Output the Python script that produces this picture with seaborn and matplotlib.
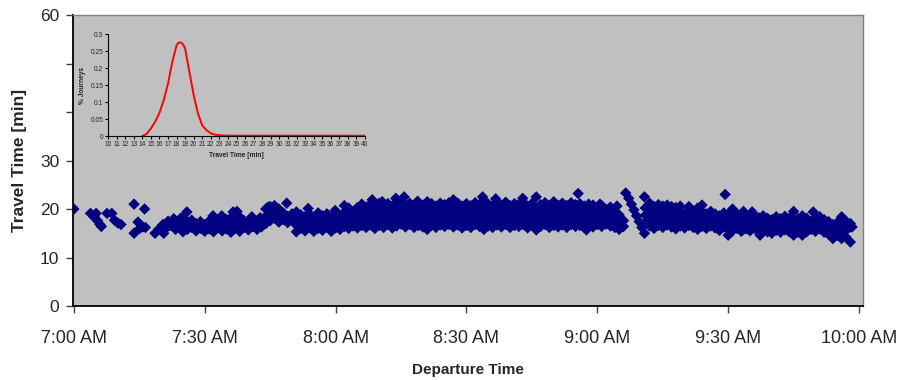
import pandas as pd
import seaborn as sns
import matplotlib.pyplot as plt

# departure time in minutes after 7:00 AM, with the travel times [min] read at that minute
seg_0700 = [
    (0, [20.0]), (3.8, [19.1]), (4.8, [18.2]), (5.1, [19.1]), (5.4, [17.6]), (6.0, [16.8]), (6.3, [16.4]),
    (7.6, [19.1]), (8.7, [19.1]), (9.3, [17.7]), (10.1, [17.1]), (10.8, [16.8]),
    (13.8, [21.0, 15.0]), (14.7, [17.3]), (15.1, [16.0]), (15.8, [16.3]), (16.2, [20.0]), (16.4, [16.2]),
    (18.6, [15.0]), (19.4, [15.8]), (20.4, [16.8]), (20.6, [15.0]), (21.3, [16.2]), (21.6, [17.5]),
    (22.2, [16.6]), (22.9, [18.0]), (23.3, [15.8]), (23.8, [16.8]), (24.5, [18.1]), (24.8, [16.2]),
]
seg_0725 = [
    (25, [15.3, 16.8, 18.3]), (25.9, [19.4]), (26, [15.8, 17.4]), (27, [16.2, 17.7]), (28, [15.5, 17.0]),
    (29, [16.0, 17.4]), (30, [15.4, 16.8]), (31, [15.9, 17.5]), (31.9, [18.6]), (32, [15.3, 16.6]),
    (33, [16.1, 17.6]), (33.9, [18.6]), (34, [15.5, 17.0]), (35, [15.9, 17.8]), (36, [15.2, 16.5, 18.2]),
    (36.5, [19.4]), (37, [16.0, 17.6]), (37.4, [19.5]), (38, [15.4, 16.9, 18.4]), (39, [16.2, 17.6]),
    (40, [15.7, 17.2]), (40.8, [18.4]), (41, [16.4, 17.7]), (42, [15.8, 17.0]), (42.7, [18.2]),
    (43, [16.3, 17.4]), (44, [17.0, 18.5, 20.0]), (44.5, [20.4]), (45, [17.6, 19.0, 20.5]),
    (46, [18.1, 19.5, 20.7]), (47, [17.3, 18.6, 20.0]), (48, [17.8, 19.2]), (48.8, [21.2]),
    (49, [17.2, 18.5]), (50, [17.6, 19.0]),
]
seg_0750 = [
    (51, [15.3, 16.7, 18.2, 19.4]), (52, [16.0, 17.4, 18.8]), (53, [15.5, 17.0, 18.4]), (53.7, [20.1]),
    (54, [16.2, 17.6, 19.0]), (55, [15.4, 16.9, 18.3]), (56, [16.0, 17.5, 19.2]), (57, [15.6, 17.0, 18.6]),
    (58, [16.3, 17.8, 19.0]), (59, [15.4, 16.8, 18.2]), (59.9, [19.7]), (60, [16.1, 17.6, 18.9]),
    (61, [15.8, 17.2, 18.5]), (62, [16.4, 17.9, 19.3, 20.7]), (63, [16.0, 17.4, 18.8, 20.2]),
    (64, [16.5, 17.9, 19.4]), (65, [16.1, 17.5, 18.9, 20.3]), (66, [16.6, 18.0, 19.5, 21.0]),
    (67, [16.2, 17.6, 19.0, 20.4]), (68, [16.7, 18.1, 19.6, 21.0]), (68.4, [21.9]),
    (69, [16.0, 17.5, 19.0, 20.5]), (70, [16.6, 18.1, 19.6, 21.2]), (70.7, [21.5]),
    (71, [16.2, 17.7, 19.2, 20.6]), (72, [16.8, 18.2, 19.7, 21.1]), (73, [16.1, 17.6, 19.1, 20.6]),
    (73.8, [22.2]), (74, [16.5, 18.0, 19.5, 21.0]), (75, [16.9, 18.4, 19.9, 21.4]), (75.7, [22.5]),
    (76, [16.3, 17.8, 19.3, 20.8]),
]
seg_0816 = [
    (77, [16.8, 18.2, 19.7, 21.2]), (78, [16.2, 17.7, 19.1, 20.6]), (78.8, [21.6]),
    (79, [16.6, 18.1, 19.6, 21.0]), (80, [16.3, 17.8, 19.3, 20.8]), (81, [15.8, 17.3, 18.8, 20.3, 21.5]),
    (82, [16.6, 18.1, 19.6, 21.1]), (83, [16.2, 17.7, 19.2, 20.6]), (84, [16.7, 18.2, 19.7, 21.2]),
    (85, [16.4, 17.9, 19.4, 20.9]), (86, [16.8, 18.3, 19.8, 21.3]), (87, [16.3, 17.8, 19.3, 20.8, 21.9]),
    (88, [16.7, 18.2, 19.7, 21.2]), (89, [16.1, 17.6, 19.1, 20.6]), (90, [16.6, 18.1, 19.6, 21.1]),
    (91, [16.2, 17.7, 19.2, 20.7]), (92, [16.8, 18.3, 19.8, 21.3]), (93, [16.4, 17.9, 19.4, 20.9]),
    (93.7, [22.5]), (94, [15.8, 17.3, 18.8, 20.3, 21.8]), (95, [16.5, 18.0, 19.5, 21.0]),
    (96, [16.2, 17.7, 19.2, 20.7]), (96.7, [22.1]), (97, [16.7, 18.2, 19.7, 21.2]),
    (98, [16.3, 17.8, 19.3, 20.8]), (99, [16.8, 18.3, 19.8, 21.4]), (100, [16.2, 17.7, 19.2, 20.7]),
    (101, [16.6, 18.1, 19.6, 21.1]), (102, [16.4, 17.9, 19.4, 20.9]), (102.9, [22.2]),
    (103, [16.8, 18.3, 19.8, 21.3]), (104, [16.1, 17.6, 19.1, 20.6]), (105, [16.6, 18.1, 19.6, 21.1]),
]
seg_0846 = [
    (106, [15.7, 17.2, 18.7, 20.2, 22.5]), (107, [16.4, 17.9, 19.4, 20.9]), (108, [16.8, 18.3, 19.8, 21.3]),
    (109, [16.2, 17.7, 19.2, 20.7]), (110, [16.6, 18.1, 19.6, 21.5]), (111, [16.3, 17.8, 19.3, 20.8]),
    (112, [16.7, 18.2, 19.7, 21.2]), (113, [16.2, 17.7, 19.2, 20.7]), (114, [16.8, 18.3, 19.8, 21.3]),
    (115, [16.4, 17.9, 19.4, 20.9]), (115.6, [23.2]), (116, [16.6, 18.1, 19.6, 21.1]),
    (117, [16.2, 17.7, 19.2, 20.6]), (117.5, [15.7]), (118, [16.7, 18.2, 19.7, 21.0]),
    (119, [16.3, 17.8, 19.3, 20.8]), (120, [16.8, 18.3, 19.8]), (120.6, [21.0]),
    (121, [16.4, 17.9, 19.4, 20.7]), (122, [16.9, 18.4, 19.9]), (123, [16.5, 18.0, 19.5, 20.4]),
    (124, [16.2, 17.7, 19.2]), (124.5, [20.6]), (125, [15.8, 17.3, 18.8]), (126, [16.4, 17.6]),
    (126.5, [23.3]), (127.2, [22.2]), (127.8, [21.0]), (128.4, [19.8]), (129, [18.6]),
    (129.6, [17.4]), (130.2, [16.2]), (130.8, [15.0, 22.5]),
]
seg_0911 = [
    (131, [17.2, 18.7, 20.2]), (132, [16.5, 18.0, 19.5, 21.2]), (133, [16.0, 17.5, 19.0, 20.5]),
    (134, [16.6, 18.1, 19.6, 20.9]), (135, [16.2, 17.7, 19.2, 20.6]), (136, [16.7, 18.2, 19.7, 20.8]),
    (137, [16.3, 17.8, 19.3, 20.5]), (138, [15.9, 17.4, 18.9, 20.3]), (139, [16.5, 18.0, 19.5, 20.6]),
    (140, [16.1, 17.6, 19.1]), (141, [16.6, 18.1, 19.6, 20.5]), (142, [16.2, 17.7, 19.2]),
    (143, [15.8, 17.3, 18.8, 20.2]), (144, [16.4, 17.9, 19.4, 20.8]), (145, [16.0, 17.5, 19.0]),
    (146, [16.5, 18.0, 19.5]), (147, [16.1, 17.6, 19.0]), (148, [15.6, 17.1, 18.6]),
    (149, [16.3, 17.8, 19.2]), (149.3, [23.0]), (150, [14.6, 15.9, 17.4, 18.9]),
    (151, [15.5, 17.0, 18.5, 20.0]), (152, [16.0, 17.5, 19.0]), (153, [15.4, 16.9, 18.4]),
    (153.5, [19.5]), (154, [15.9, 17.4, 18.9]), (155, [15.5, 17.0, 18.4]), (155.5, [19.4]),
]
seg_0936 = [
    (156, [16.0, 17.3, 18.6]), (157, [15.4, 16.8, 18.2]), (157.3, [14.6]), (158, [15.9, 17.3, 18.6]),
    (159, [15.3, 16.7, 18.1]), (160, [15.0, 16.4, 17.8]), (161, [15.6, 17.0, 18.4]),
    (162, [15.2, 16.6, 18.0]), (163, [15.7, 17.1, 18.5]), (164, [15.3, 16.7, 18.1]),
    (165, [14.6, 16.0, 17.4, 19.5]), (166, [15.2, 16.6, 18.0]), (167, [14.6, 15.8, 17.2, 18.6]),
    (168, [15.3, 16.7, 18.1]), (169, [15.8, 17.2]), (169.5, [19.4]), (170, [15.4, 16.8, 18.2]),
    (171, [15.9, 17.3, 18.4]), (172, [15.2, 16.5, 17.8]), (173, [14.8, 16.2, 17.4]),
    (174, [13.9, 15.4, 16.8]), (175, [14.6, 16.0, 17.2]), (176, [13.9, 15.3, 16.8, 18.4]),
    (177, [14.2, 15.6, 17.5]), (178, [13.2, 16.3, 17.0]), (178.4, [16.3]),
]

dep_ticks = [0, 30, 60, 90, 120, 150, 180]
dep_labels = ["7:00 AM", "7:30 AM", "8:00 AM", "8:30 AM", "9:00 AM", "9:30 AM", "10:00 AM"]
tt_ticks = [0, 10, 20, 30, 40, 50, 60]
tt_labels = ["0", "10", "20", "30", "", "", "60"]

# inset: travel time distribution
dist_tt = [14, 14.5, 15, 15.5, 16, 16.5, 17, 17.5, 18, 18.25, 18.5, 18.75, 19, 19.5, 20, 20.5,
           21, 21.5, 22, 22.5, 23, 24, 26, 28, 30, 32, 34, 36, 38, 40]
dist_share = [0.0, 0.006, 0.022, 0.042, 0.068, 0.105, 0.154, 0.218, 0.267, 0.275, 0.275, 0.27,
              0.257, 0.188, 0.12, 0.066, 0.031, 0.017, 0.008, 0.004, 0.002, 0.001, 0.001, 0.001,
              0.001, 0.001, 0.001, 0.001, 0.001, 0.001]

rows = []
for seg in [seg_0700, seg_0725, seg_0750, seg_0816, seg_0846, seg_0911, seg_0936]:
    for dep, tts in seg:
        for tt in tts:
            rows.append((dep, tt))
df = pd.DataFrame(rows, columns=["departure", "travel"])
dist = pd.DataFrame({"tt": dist_tt, "share": dist_share})

sns.set_style("white")
plt.rcParams["font.family"] = ["Liberation Sans", "DejaVu Sans"]

fig = plt.figure(figsize=(8.98, 3.80), dpi=100)
ax = fig.add_axes([0.0813, 0.1947, 0.8797, 0.7658])
ax.set_facecolor("#C0C0C0")

sns.scatterplot(data=df, x="departure", y="travel", marker="D", s=34, color="#000080",
                edgecolor="none", linewidth=0, ax=ax)

ax.set_xlim(-0.2, 180.9)
ax.set_ylim(0, 60)
ax.set_xticks(dep_ticks)
ax.set_xticklabels(dep_labels, fontsize=13)
ax.set_yticks(tt_ticks)
ax.set_yticklabels(tt_labels, fontsize=12.5)
ax.tick_params(axis="both", direction="out", length=5, width=1, color="#404040",
               left=True, bottom=True)
ax.tick_params(axis="x", pad=12)
ax.tick_params(axis="y", pad=5)
ax.set_xlabel("Departure Time", fontsize=11, fontweight="bold", labelpad=12)
ax.set_ylabel("Travel Time [min]", fontsize=12.5, fontweight="bold", labelpad=9)
for side in ["left", "bottom"]:
    ax.spines[side].set_color("#000000")
    ax.spines[side].set_linewidth(1.3)
for side in ["top", "right"]:
    ax.spines[side].set_color("#808080")
    ax.spines[side].set_linewidth(1)

# inset
ins = fig.add_axes([0.1203, 0.6421, 0.2862, 0.2684])
ins.patch.set_alpha(0)
sns.lineplot(data=dist, x="tt", y="share", color="#FF0000", linewidth=1.4, ax=ins)
ins.set_xlim(10, 40)
ins.set_ylim(0, 0.3)
ins.set_xticks(range(10, 41))
ins.set_xticklabels([str(v) for v in range(10, 41)], fontsize=4.8)
ins.set_yticks([0, 0.05, 0.1, 0.15, 0.2, 0.25, 0.3])
ins.set_yticklabels(["0", "0.05", "0.1", "0.15", "0.2", "0.25", "0.3"], fontsize=4.8)
ins.tick_params(axis="both", direction="out", length=2, width=0.8, pad=1.5, color="#000000",
                left=True, bottom=True)
ins.set_xlabel("Travel Time [min]", fontsize=4.8, fontweight="bold", labelpad=3)
ins.set_ylabel("% Journeys", fontsize=4.8, fontweight="bold", labelpad=3)
for side in ["top", "right"]:
    ins.spines[side].set_visible(False)
for side in ["left", "bottom"]:
    ins.spines[side].set_color("#000000")
    ins.spines[side].set_linewidth(0.8)

fig.savefig("out.png", dpi=100)
